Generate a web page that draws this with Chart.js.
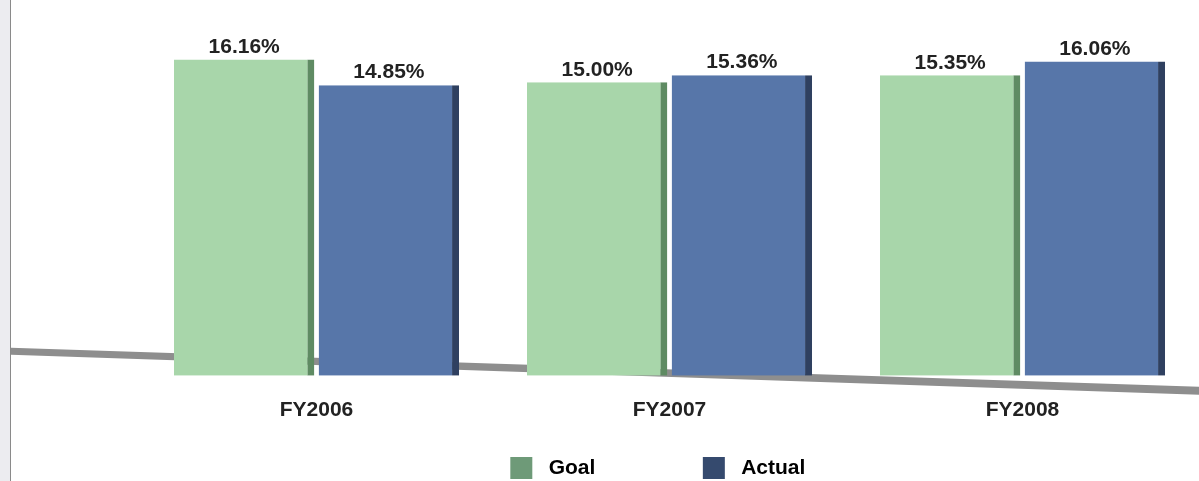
<!DOCTYPE html>
<html>
<head>
<meta charset="utf-8">
<script src="https://cdn.jsdelivr.net/npm/chart.js@4/dist/chart.umd.min.js"></script>
<style>
    html, body { margin: 0; padding: 0; background: #fff; }
    body { width: 1199px; height: 481px; overflow: hidden; position: relative; }
    #strip { position: absolute; left: 0; top: 0; width: 10px; height: 481px; background: #ececf0; border-right: 1px solid #8a8a8a; }
    #wrap { position: absolute; left: 11px; top: 0; width: 1188px; height: 481px; }
</style>
</head>
<body>
<div id="strip"></div>
<div id="wrap"><canvas id="chart"></canvas></div>
<script>
// values
const categories = ['FY2006', 'FY2007', 'FY2008'];
const goalValues = [16.16, 15.00, 15.35];
const actualValues = [14.85, 15.36, 16.06];

const FONT = '"Liberation Sans", Arial, sans-serif';

// grey floor strip behind the bars, slanting down to the right
const floorPlugin = {
    id: 'floor',
    beforeDatasetsDraw(chart) {
        const { ctx, width } = chart;
        const y0 = chart.scales.y.getPixelForValue(0);
        ctx.save();
        ctx.fillStyle = '#8e8e8e';
        ctx.beginPath();
        ctx.moveTo(0, y0 - 28);
        ctx.lineTo(width, y0 + 11);
        ctx.lineTo(width, y0 + 19);
        ctx.lineTo(0, y0 - 21);
        ctx.closePath();
        ctx.fill();
        ctx.restore();
    }
};

// percentage labels above each bar
const valueLabels = {
    id: 'valueLabels',
    afterDatasetsDraw(chart) {
        const { ctx } = chart;
        ctx.save();
        ctx.font = 'bold 21px ' + FONT;
        ctx.fillStyle = '#222';
        ctx.textAlign = 'center';
        ctx.textBaseline = 'bottom';
        chart.data.datasets.forEach((ds, i) => {
            chart.getDatasetMeta(i).data.forEach((bar, j) => {
                ctx.fillText(ds.data[j].toFixed(2) + '%', bar.x, bar.y - 2);
            });
        });
        ctx.restore();
    }
};

const legendPad = [' '.repeat(15), ' '.repeat(4)];

new Chart(document.getElementById('chart'), {
    type: 'bar',
    data: {
        labels: categories,
        datasets: [
            {
                label: 'Goal',
                data: goalValues,
                backgroundColor: '#a8d6aa',
                borderColor: '#5f8b63',
                borderWidth: { top: 0, right: 7, bottom: 0, left: 0 },
                legendColor: '#6e9a78'
            },
            {
                label: 'Actual',
                data: actualValues,
                backgroundColor: '#5776a9',
                borderColor: '#2f4060',
                borderWidth: { top: 0, right: 7, bottom: 0, left: 0 },
                legendColor: '#354a6e'
            }
        ]
    },
    options: {
        responsive: true,
        maintainAspectRatio: false,
        animation: false,
        layout: { padding: { left: 129, right: 0, top: 0, bottom: -8 } },
        datasets: { bar: { categoryPercentage: 0.82, barPercentage: 0.97 } },
        plugins: {
            tooltip: { enabled: false },
            legend: {
                position: 'bottom',
                labels: {
                    boxWidth: 22,
                    boxHeight: 22,
                    padding: 20,
                    color: '#222',
                    font: { family: FONT, size: 21, weight: 'bold' },
                    generateLabels(chart) {
                        return chart.data.datasets.map((ds, i) => ({
                            text: ' ' + ds.label + legendPad[i],
                            fillStyle: ds.legendColor,
                            strokeStyle: ds.legendColor,
                            lineWidth: 0,
                            datasetIndex: i
                        }));
                    }
                }
            }
        },
        scales: {
            x: {
                grid: { display: false },
                border: { display: false },
                ticks: {
                    padding: 14,
                    color: '#222',
                    font: { family: FONT, size: 21, weight: 'bold' }
                }
            },
            y: {
                display: false,
                min: 0,
                max: 19.2
            }
        }
    },
    plugins: [floorPlugin, valueLabels]
});
</script>
</body>
</html>
